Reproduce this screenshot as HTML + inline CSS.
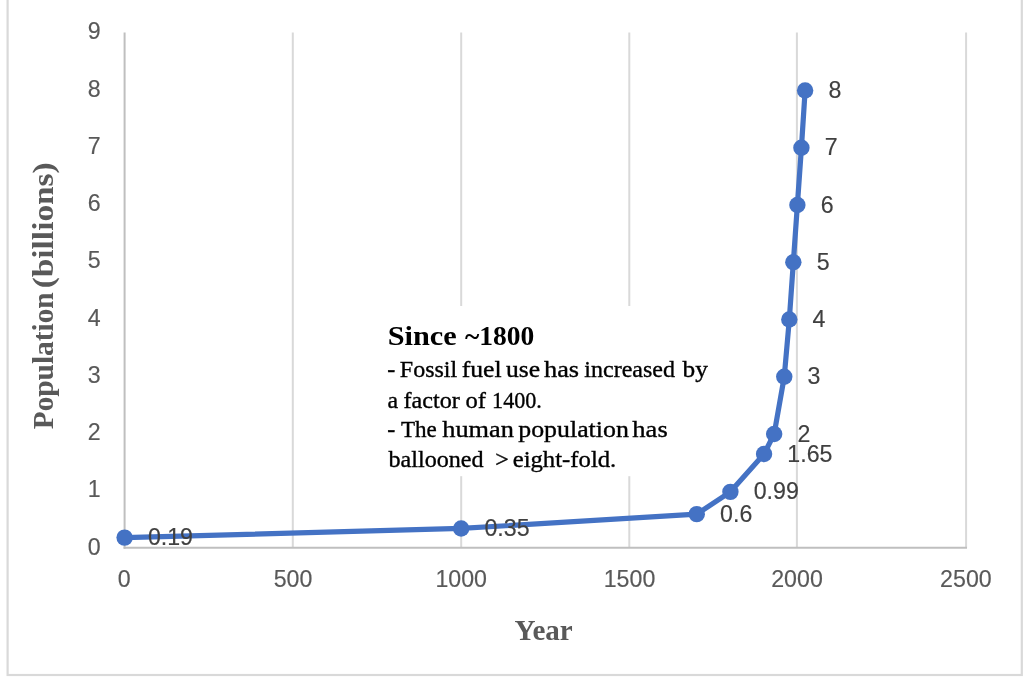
<!DOCTYPE html>
<html><head><meta charset="utf-8"><title>Population</title>
<style>
html,body{margin:0;padding:0;background:#fff;}
body{width:1024px;height:688px;overflow:hidden;position:relative;}
svg{position:absolute;left:0;top:0;display:block;}
.t{font-family:"Liberation Sans",sans-serif;fill:#595959;font-size:23.2px;stroke:#595959;stroke-width:0.15px;}
.s{font-family:"Liberation Serif",serif;}
.b{stroke:#000;stroke-width:0.35px;}
.d{fill:#404040;stroke:#404040;}
</style></head><body>
<svg width="1024" height="688" viewBox="0 0 1024 688">
<rect x="0" y="0" width="1024" height="688" fill="#fff"/>
<rect x="7.6" y="-10" width="1014.2" height="685" fill="none" stroke="#d9d9d9" stroke-width="2.2"/>
<line x1="292.80" y1="32.5" x2="292.80" y2="547.7" stroke="#d9d9d9" stroke-width="2"/>
<line x1="461.20" y1="32.5" x2="461.20" y2="547.7" stroke="#d9d9d9" stroke-width="2"/>
<line x1="629.30" y1="32.5" x2="629.30" y2="547.7" stroke="#d9d9d9" stroke-width="2"/>
<line x1="796.90" y1="32.5" x2="796.90" y2="547.7" stroke="#d9d9d9" stroke-width="2"/>
<line x1="966.10" y1="32.5" x2="966.10" y2="547.7" stroke="#d9d9d9" stroke-width="2"/>
<rect x="380" y="306" width="340" height="170.2" fill="#fff"/>
<line x1="124.6" y1="32.5" x2="124.6" y2="548.7" stroke="#bfbfbf" stroke-width="2"/>
<line x1="123.6" y1="547.7" x2="967.00" y2="547.7" stroke="#bfbfbf" stroke-width="2"/>
<text class="t" x="100.6" y="554.60" text-anchor="end">0</text>
<text class="t" x="100.6" y="497.36" text-anchor="end">1</text>
<text class="t" x="100.6" y="440.11" text-anchor="end">2</text>
<text class="t" x="100.6" y="382.87" text-anchor="end">3</text>
<text class="t" x="100.6" y="325.62" text-anchor="end">4</text>
<text class="t" x="100.6" y="268.38" text-anchor="end">5</text>
<text class="t" x="100.6" y="211.13" text-anchor="end">6</text>
<text class="t" x="100.6" y="153.89" text-anchor="end">7</text>
<text class="t" x="100.6" y="96.64" text-anchor="end">8</text>
<text class="t" x="100.6" y="39.40" text-anchor="end">9</text>
<text class="t" x="124.3" y="587.3" text-anchor="middle">0</text>
<text class="t" x="293" y="587.3" text-anchor="middle">500</text>
<text class="t" x="461.2" y="587.3" text-anchor="middle">1000</text>
<text class="t" x="629.5" y="587.3" text-anchor="middle">1500</text>
<text class="t" x="797.0" y="587.3" text-anchor="middle">2000</text>
<text class="t" x="965.9" y="587.3" text-anchor="middle">2500</text>
<path d="M124.60 537.62 L461.16 528.46 L696.75 514.15 L730.41 491.83 L764.06 454.05 L774.16 434.01 L784.26 376.77 L789.31 319.52 L793.34 262.28 L797.38 205.03 L801.42 147.79 L805.12 90.54" fill="none" stroke="#4472c4" stroke-width="5.2" stroke-linejoin="round" stroke-linecap="round"/>
<circle cx="124.60" cy="537.62" r="8.2" fill="#4472c4"/>
<circle cx="461.16" cy="528.46" r="8.2" fill="#4472c4"/>
<circle cx="696.75" cy="514.15" r="8.2" fill="#4472c4"/>
<circle cx="730.41" cy="491.83" r="8.2" fill="#4472c4"/>
<circle cx="764.06" cy="454.05" r="8.2" fill="#4472c4"/>
<circle cx="774.16" cy="434.01" r="8.2" fill="#4472c4"/>
<circle cx="784.26" cy="376.77" r="8.2" fill="#4472c4"/>
<circle cx="789.31" cy="319.52" r="8.2" fill="#4472c4"/>
<circle cx="793.34" cy="262.28" r="8.2" fill="#4472c4"/>
<circle cx="797.38" cy="205.03" r="8.2" fill="#4472c4"/>
<circle cx="801.42" cy="147.79" r="8.2" fill="#4472c4"/>
<circle cx="805.12" cy="90.54" r="8.2" fill="#4472c4"/>
<text class="t d" x="147.90" y="545.22">0.19</text>
<text class="t d" x="484.46" y="536.06">0.35</text>
<text class="t d" x="720.05" y="521.75">0.6</text>
<text class="t d" x="753.71" y="499.43">0.99</text>
<text class="t d" x="787.36" y="461.65">1.65</text>
<text class="t d" x="797.46" y="441.61">2</text>
<text class="t d" x="807.56" y="384.37">3</text>
<text class="t d" x="812.61" y="327.12">4</text>
<text class="t d" x="816.64" y="269.88">5</text>
<text class="t d" x="820.68" y="212.63">6</text>
<text class="t d" x="824.72" y="155.39">7</text>
<text class="t d" x="828.42" y="98.14">8</text>
<text class="s" x="514.6" y="639.6" font-size="29.5" font-weight="bold" fill="#595959" textLength="58.2" lengthAdjust="spacingAndGlyphs">Year</text>
<text class="s" transform="translate(53.4,429.3) rotate(-90)" font-size="29.5" font-weight="bold" fill="#595959" textLength="137" lengthAdjust="spacingAndGlyphs">Population</text>
<text class="s" transform="translate(53.4,288.3) rotate(-90)" font-size="29.5" font-weight="bold" fill="#595959" textLength="126" lengthAdjust="spacingAndGlyphs">(billions)</text>
<text class="s" y="344.7" font-size="28.3" font-weight="bold" fill="#000"><tspan x="387.68" textLength="69.07" lengthAdjust="spacingAndGlyphs">Since</tspan> <tspan x="465.00" textLength="69.28" lengthAdjust="spacingAndGlyphs">~1800</tspan></text>
<text class="s b" y="376.9" font-size="23.3" fill="#000"><tspan x="387.37" textLength="8.02" lengthAdjust="spacingAndGlyphs">-</tspan> <tspan x="399.87" textLength="57.34" lengthAdjust="spacingAndGlyphs">Fossil</tspan> <tspan x="461.65" textLength="39.96" lengthAdjust="spacingAndGlyphs">fuel</tspan> <tspan x="505.90" textLength="34.17" lengthAdjust="spacingAndGlyphs">use</tspan> <tspan x="543.97" textLength="35.13" lengthAdjust="spacingAndGlyphs">has</tspan> <tspan x="584.37" textLength="90.60" lengthAdjust="spacingAndGlyphs">increased</tspan> <tspan x="682.50" textLength="25.32" lengthAdjust="spacingAndGlyphs">by</tspan></text>
<text class="s b" y="407.6" font-size="23.3" fill="#000"><tspan x="387.47" textLength="10.63" lengthAdjust="spacingAndGlyphs">a</tspan> <tspan x="403.46" textLength="56.38" lengthAdjust="spacingAndGlyphs">factor</tspan> <tspan x="465.45" textLength="20.44" lengthAdjust="spacingAndGlyphs">of</tspan> <tspan x="492.10" textLength="49.75" lengthAdjust="spacingAndGlyphs">1400.</tspan></text>
<text class="s b" y="437.0" font-size="23.3" fill="#000"><tspan x="387.37" textLength="8.02" lengthAdjust="spacingAndGlyphs">-</tspan> <tspan x="400.90" textLength="35.83" lengthAdjust="spacingAndGlyphs">The</tspan> <tspan x="442.27" textLength="71.71" lengthAdjust="spacingAndGlyphs">human</tspan> <tspan x="518.29" textLength="110.54" lengthAdjust="spacingAndGlyphs">population</tspan> <tspan x="632.36" textLength="35.35" lengthAdjust="spacingAndGlyphs">has</tspan></text>
<text class="s b" y="466.6" font-size="23.3" fill="#000"><tspan x="388.50" textLength="95.12" lengthAdjust="spacingAndGlyphs">ballooned</tspan> <tspan x="495.23" textLength="13.44" lengthAdjust="spacingAndGlyphs">&gt;</tspan> <tspan x="512.69" textLength="103.62" lengthAdjust="spacingAndGlyphs">eight-fold.</tspan></text>
</svg></body></html>
